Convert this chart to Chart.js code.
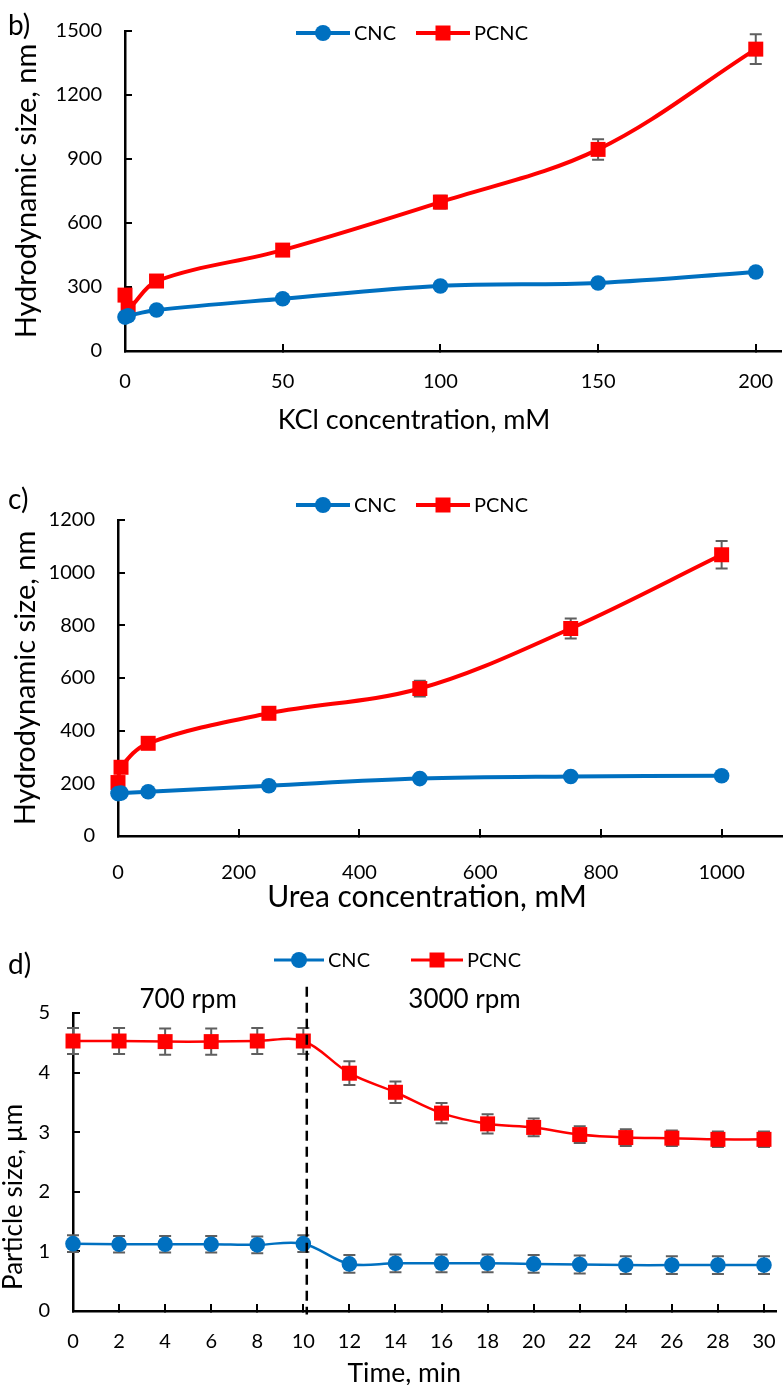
<!DOCTYPE html>
<html><head><meta charset="utf-8">
<script src="https://cdn.jsdelivr.net/npm/chart.js@4.4.1/dist/chart.umd.min.js"></script>
<style>
html,body{margin:0;padding:0;background:#fff;overflow:hidden;width:783px;height:1385px;}
.wrap{position:absolute;left:0;width:783px;}
.panel{position:absolute;left:8px;font-family:Lato,sans-serif;font-size:28px;color:#000;line-height:28px;}
canvas{display:block;}
</style></head><body>
<div class="wrap" style="top:0;height:440px"><canvas id="cb" width="783" height="440"></canvas></div>
<div class="wrap" style="top:460px;height:460px"><canvas id="cc" width="783" height="460"></canvas></div>
<div class="wrap" style="top:920px;height:470px"><canvas id="cd" width="783" height="470"></canvas></div>
<div class="panel" style="top:10px">b)</div>
<div class="panel" style="top:484px">c)</div>
<div class="panel" style="top:949px">d)</div>
<script>
// ---------- DATA ----------
const seriesNames = ['CNC', 'PCNC'];

const kclConc    = [0, 1, 10, 50, 100, 150, 200];
const kclCNC     = [159, 165, 192, 245, 305, 319, 370];
const kclCNCErr  = [8, 8, 10, 10, 12, 12, 15];
const kclPCNC    = [262, 200, 328, 473, 698, 945, 1415];
const kclPCNCErr = [12, 10, 15, 15, 30, 48, 70];

const ureaConc    = [0, 5, 50, 250, 500, 750, 1000];
const ureaCNC     = [161, 163, 168, 191, 218, 226, 229];
const ureaCNCErr  = [8, 8, 8, 10, 10, 10, 10];
const ureaPCNC    = [203, 261, 352, 466, 560, 788, 1068];
const ureaPCNCErr = [10, 10, 15, 20, 30, 38, 52];

const timeMin     = [0, 2, 4, 6, 8, 10, 12, 14, 16, 18, 20, 22, 24, 26, 28, 30];
const timeCNC     = [1.13, 1.12, 1.12, 1.12, 1.11, 1.13, 0.79, 0.80, 0.80, 0.80, 0.79, 0.78, 0.77, 0.77, 0.77, 0.77];
const timeCNCErr  = [0.14, 0.14, 0.14, 0.14, 0.14, 0.14, 0.15, 0.15, 0.15, 0.15, 0.15, 0.15, 0.15, 0.15, 0.15, 0.15];
const timePCNC    = [4.53, 4.53, 4.52, 4.52, 4.53, 4.53, 3.99, 3.67, 3.32, 3.14, 3.08, 2.96, 2.91, 2.90, 2.88, 2.88];
const timePCNCErr = [0.22, 0.22, 0.22, 0.22, 0.22, 0.22, 0.20, 0.18, 0.17, 0.16, 0.15, 0.14, 0.14, 0.13, 0.13, 0.13];

const speedChangeTime = 10.15;           // dashed separator (min)
const speedLabels = [{text: '700 rpm', x: 5.0}, {text: '3000 rpm', x: 17.0}];
const speedLabelY = 5.22;

// ---------- STYLE ----------
const BLUE = '#0070C0', RED = '#FF0000', ERR = '#5f5f5f';
Chart.defaults.font.family = 'Lato';
Chart.defaults.color = '#000';

const pts = (xs, ys) => xs.map((x, i) => ({x, y: ys[i]}));

const errorBars = {
  id: 'errorBars',
  beforeDatasetsDraw(chart, args, o) {
    const ctx = chart.ctx, ys = chart.scales.y;
    chart.data.datasets.forEach((ds, i) => {
      if (!ds.errors) return;
      const meta = chart.getDatasetMeta(i);
      ctx.save();
      ctx.strokeStyle = ERR; ctx.lineWidth = o.width || 2;
      meta.data.forEach((p, j) => {
        const v = ds.data[j].y, e = ds.errors[j];
        const y1 = ys.getPixelForValue(v + e), y2 = ys.getPixelForValue(v - e), c = o.cap || 6;
        ctx.beginPath();
        ctx.moveTo(p.x, y1); ctx.lineTo(p.x, y2);
        ctx.moveTo(p.x - c, y1); ctx.lineTo(p.x + c, y1);
        ctx.moveTo(p.x - c, y2); ctx.lineTo(p.x + c, y2);
        ctx.stroke();
      });
      ctx.restore();
    });
  }
};

const lineLegend = {
  id: 'lineLegend',
  afterDraw(chart, args, o) {
    const ctx = chart.ctx;
    ctx.save();
    chart.data.datasets.forEach((ds, i) => {
      const it = o.items[i];
      ctx.strokeStyle = ds.borderColor; ctx.lineWidth = o.lineWidth;
      ctx.beginPath(); ctx.moveTo(it.x1, o.y); ctx.lineTo(it.x2, o.y); ctx.stroke();
      const mx = (it.x1 + it.x2) / 2;
      ctx.fillStyle = ds.borderColor;
      ctx.beginPath();
      if (ds.pointStyle === 'rect') { const s = o.sq; ctx.rect(mx - s / 2, o.y - s / 2, s, s); }
      else ctx.arc(mx, o.y, o.r, 0, Math.PI * 2);
      ctx.fill();
      ctx.fillStyle = '#000';
      ctx.font = o.fontSize + 'px Lato';
      ctx.textBaseline = 'middle'; ctx.textAlign = 'left';
      ctx.fillText(ds.label, it.x2 + 4, o.y + 1);
    });
    ctx.restore();
  }
};

const axisTitles = {
  id: 'axisTitles',
  afterDraw(chart, args, o) {
    const ctx = chart.ctx, ca = chart.chartArea;
    ctx.save();
    ctx.fillStyle = '#000'; ctx.textAlign = 'center'; ctx.textBaseline = 'middle';
    ctx.font = o.x.size + 'px Lato';
    ctx.fillText(o.x.text, (ca.left + ca.right) / 2 + o.x.dx, ca.bottom + o.x.dy);
    ctx.translate(o.y.x, (ca.top + ca.bottom) / 2 + o.y.dy);
    ctx.rotate(-Math.PI / 2);
    ctx.font = o.y.size + 'px Lato';
    ctx.fillText(o.y.text, 0, 0);
    ctx.restore();
  }
};

const speedMarks = {
  id: 'speedMarks',
  afterDatasetsDraw(chart) {
    const o = chart.options.plugins.speedMarks;
    if (!o || !o.enabled) return;
    const ctx = chart.ctx, xs = chart.scales.x, ys = chart.scales.y;
    ctx.save();
    ctx.strokeStyle = '#000'; ctx.lineWidth = 2.5; ctx.setLineDash([10, 6]);
    const x = xs.getPixelForValue(speedChangeTime);
    ctx.beginPath(); ctx.moveTo(x, ys.getPixelForValue(5.44)); ctx.lineTo(x, ys.getPixelForValue(-0.06)); ctx.stroke();
    ctx.setLineDash([]);
    ctx.fillStyle = '#000'; ctx.font = '26px Lato'; ctx.textAlign = 'center'; ctx.textBaseline = 'middle';
    speedLabels.forEach(l => ctx.fillText(l.text, xs.getPixelForValue(l.x), ys.getPixelForValue(speedLabelY)));
    ctx.restore();
  }
};

function axis(o) {
  return {
    type: 'linear', min: o.min, max: o.max,
    ticks: {stepSize: o.step, includeBounds: false, padding: o.tickPad, font: {size: 20}, color: '#000',
            autoSkip: false, maxRotation: 0, callback: v => String(v)},
    grid: {display: true, drawOnChartArea: false, drawTicks: true, tickLength: -7, color: '#000', lineWidth: 2},
    border: {display: true, color: '#000', width: 2.5},
    title: {display: false},
    afterFit(s) {
      if (o.isX) s.height = o.fit; else s.width = o.fit;
      s.paddingTop = 0; s.paddingBottom = 0; s.paddingLeft = 0; s.paddingRight = 0;
    }
  };
}

function ds(label, xs, ys, errs, color, style, lw, r) {
  return {
    label, data: pts(xs, ys), errors: errs,
    borderColor: color, backgroundColor: color, borderWidth: lw,
    pointStyle: style, pointRadius: r, pointBorderWidth: 0, pointHoverRadius: r,
    pointBackgroundColor: color, tension: 0.35, clip: false, fill: false
  };
}

function make(id, cfg) {
  return new Chart(document.getElementById(id), {
    type: 'line',
    data: {datasets: [
      ds(seriesNames[0], cfg.x, cfg.cnc, cfg.cncErr, BLUE, 'circle', cfg.lw, 7.8),
      ds(seriesNames[1], cfg.x, cfg.pcnc, cfg.pcncErr, RED, 'rect', cfg.lw, 10.6)
    ]},
    options: {
      responsive: false, animation: false, devicePixelRatio: 1,
      layout: {padding: cfg.pad, autoPadding: false},
      scales: {x: axis(cfg.xa), y: axis(cfg.ya)},
      plugins: {
        legend: {display: false}, tooltip: {enabled: false},
        errorBars: {width: 2, cap: 6},
        lineLegend: cfg.legend,
        axisTitles: cfg.titles,
        speedMarks: {enabled: !!cfg.speed}
      }
    },
    plugins: [errorBars, lineLegend, axisTitles, speedMarks]
  });
}

make('cb', {
  x: kclConc, cnc: kclCNC, cncErr: kclCNCErr, pcnc: kclPCNC, pcncErr: kclPCNCErr, lw: 4,
  pad: {top: 31, left: 0, right: 2, bottom: 0},
  xa: {min: 0, max: 208, step: 50, tickPad: 26, isX: true, fit: 89},
  ya: {min: 0, max: 1500, step: 300, tickPad: 30, fit: 125},
  titles: {x: {text: 'KCl concentration, mM', size: 27, dx: -39, dy: 69},
           y: {text: 'Hydrodynamic size, nm', size: 29, x: 27, dy: 0}},
  legend: {y: 33, lineWidth: 4, r: 8, sq: 15, fontSize: 20, items: [{x1: 296, x2: 350}, {x1: 416, x2: 470}]}
});

make('cc', {
  x: ureaConc, cnc: ureaCNC, cncErr: ureaCNCErr, pcnc: ureaPCNC, pcncErr: ureaPCNCErr, lw: 4,
  pad: {top: 60, left: 0, right: 1, bottom: 0},
  xa: {min: 0, max: 1100, step: 200, tickPad: 32, isX: true, fit: 84},
  ya: {min: 0, max: 1200, step: 200, tickPad: 30, fit: 118},
  titles: {x: {text: 'Urea concentration, mM', size: 30, dx: -23, dy: 61},
           y: {text: 'Hydrodynamic size, nm', size: 29, x: 26, dy: 0}},
  legend: {y: 45, lineWidth: 4, r: 8, sq: 15, fontSize: 20, items: [{x1: 296, x2: 350}, {x1: 416, x2: 470}]}
});

make('cd', {
  x: timeMin, cnc: timeCNC, cncErr: timeCNCErr, pcnc: timePCNC, pcncErr: timePCNCErr, lw: 2.5,
  pad: {top: 93, left: 0, right: 7.5, bottom: 0},
  xa: {min: 0, max: 30.5, step: 2, tickPad: 26, isX: true, fit: 79},
  ya: {min: 0, max: 5, step: 1, tickPad: 30, fit: 73},
  titles: {x: {text: 'Time, min', size: 26.5, dx: -20, dy: 62},
           y: {text: 'Particle size, µm', size: 26, x: 14, dy: 35}},
  legend: {y: 40, lineWidth: 3, r: 8, sq: 15, fontSize: 20, items: [{x1: 274, x2: 324}, {x1: 411, x2: 463}]},
  speed: true
});
</script>
</body></html>
